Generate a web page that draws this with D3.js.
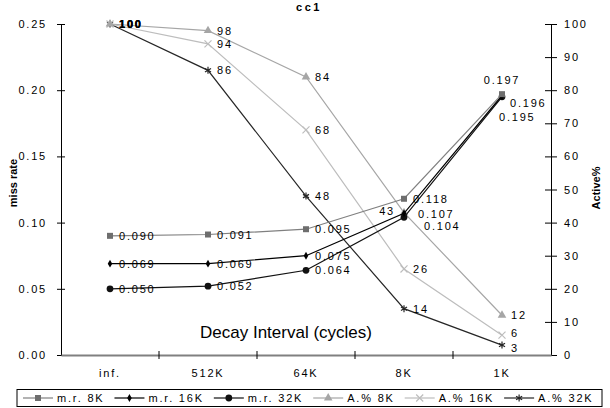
<!DOCTYPE html>
<html>
<head>
<meta charset="utf-8">
<script src="https://cdn.jsdelivr.net/npm/d3@7"></script>
<style>
  body { margin: 0; background: #fff; }
  text { font-family: "Liberation Sans", Arial, sans-serif; }
</style>
</head>
<body>
<script>
var categories = ["inf.", "512K", "64K", "8K", "1K"];
var mr8K  = [0.090, 0.091, 0.095, 0.118, 0.197];
var mr16K = [0.069, 0.069, 0.075, 0.107, 0.196];
var mr32K = [0.050, 0.052, 0.064, 0.104, 0.195];
var act8K  = [100, 98, 84, 43, 12];
var act16K = [100, 94, 68, 26, 6];
var act32K = [100, 86, 48, 14, 3];
var leftTicks = [0, 0.05, 0.10, 0.15, 0.20, 0.25];
var rightTicks = [0, 10, 20, 30, 40, 50, 60, 70, 80, 90, 100];

var width = 610, height = 408;
var margin = {top: 24, right: 59, bottom: 53, left: 61};

// series styling, label offsets per point where the default (right side) doesn't fit
var series = [
  {name: "m.r. 8K",  values: mr8K,  axis: "left",  stroke: "#808080", fill: "#6e6e6e", symbol: d3.symbolSquare, size: 36, fmt: d3.format(".3f"),
   labels: {4: {dx: 0, dy: -10, anchor: "middle"}}},
  {name: "m.r. 16K", values: mr16K, axis: "left",  stroke: "#000", fill: "#000", symbol: d3.symbolDiamond, size: 18, fmt: d3.format(".3f"),
   labels: {3: {dx: 14, dy: 5}, 4: {dx: 8, dy: 12}}},
  {name: "m.r. 32K", values: mr32K, axis: "left",  stroke: "#111", fill: "#111", symbol: d3.symbolCircle, size: 36, fmt: d3.format(".3f"),
   labels: {3: {dx: 20, dy: 13}, 4: {dx: -3, dy: 24}}},
  {name: "A.% 8K",   values: act8K,  axis: "right", stroke: "#a6a6a6", fill: "#a6a6a6", symbol: d3.symbolTriangle, size: 32, fmt: d3.format("d"), stroked: false,
   labels: {3: {dx: -9, dy: 2, anchor: "end"}}},
  {name: "A.% 16K",  values: act16K, axis: "right", stroke: "#bdbdbd", fill: "none", symbol: d3.symbolX, size: 34, fmt: d3.format("d"), stroked: true,
   labels: {4: {dx: 9, dy: 2}}},
  {name: "A.% 32K",  values: act32K, axis: "right", stroke: "#262626", fill: "none", symbol: d3.symbolAsterisk, size: 34, fmt: d3.format("d"), stroked: true,
   labels: {4: {dx: 9, dy: 7}}}
];

var svg = d3.select("body").append("svg")
  .attr("width", width)
  .attr("height", height);

var x = d3.scaleBand().domain(categories).range([margin.left, width - margin.right]);
var yL = d3.scaleLinear().domain([0, 0.25]).range([height - margin.bottom, margin.top]);
var yR = d3.scaleLinear().domain([0, 100]).range([height - margin.bottom, margin.top]);

// title
svg.append("text")
  .attr("x", 309).attr("y", 11)
  .attr("text-anchor", "middle")
  .style("font-size", "11px").style("font-weight", "bold").style("letter-spacing", "2.5px")
  .text("cc1");

// left axis
var gL = svg.append("g")
  .attr("transform", "translate(" + margin.left + ",0)")
  .call(d3.axisLeft(yL).tickValues(leftTicks).tickFormat(d3.format(".2f")).tickSizeOuter(0).tickSize(4).tickPadding(10));
gL.selectAll(".tick line").attr("x1", 4).attr("x2", -4);
gL.selectAll("text").style("font-size", "11px").style("letter-spacing", "1.8px").attr("fill", "#000");

// right axis
var gR = svg.append("g")
  .attr("transform", "translate(" + (width - margin.right) + ",0)")
  .call(d3.axisRight(yR).tickValues(rightTicks).tickSizeOuter(0).tickSize(6).tickPadding(7));
gR.selectAll(".tick line").attr("x1", -6).attr("x2", 6);
gR.selectAll("text").style("font-size", "11px").style("letter-spacing", "1.8px").attr("fill", "#000");

// bottom axis
var gB = svg.append("g")
  .attr("transform", "translate(0," + (height - margin.bottom) + ")")
  .call(d3.axisBottom(x).tickSize(0).tickPadding(14));
gB.select(".domain").attr("stroke", "#808080").attr("stroke-width", 2);
gB.selectAll("text").style("font-size", "11px").style("letter-spacing", "1.8px").attr("fill", "#000");
gB.selectAll(".bound")
  .data(categories.slice(1))
  .enter().append("line")
  .attr("class", "bound")
  .attr("x1", function(d) { return x(d); })
  .attr("x2", function(d) { return x(d); })
  .attr("y1", -4).attr("y2", 4)
  .attr("stroke", "#000");

// axis titles
svg.append("text")
  .attr("transform", "translate(17,183) rotate(-90)")
  .attr("text-anchor", "middle")
  .style("font-size", "11px").style("font-weight", "bold")
  .text("miss rate");
svg.append("text")
  .attr("transform", "translate(600,188) rotate(-90)")
  .attr("text-anchor", "middle")
  .style("font-size", "11px").style("font-weight", "bold")
  .text("Active%");

svg.append("text")
  .attr("x", 286).attr("y", 338)
  .attr("text-anchor", "middle")
  .style("font-size", "17px")
  .text("Decay Interval (cycles)");

function cx(i) { return x(categories[i]) + x.bandwidth() / 2; }

function drawMarker(g, s) {
  g.attr("d", d3.symbol().type(s.symbol).size(s.size));
  if (s.stroked) {
    g.attr("fill", "none").attr("stroke", s.stroke).attr("stroke-width", 1.2);
  } else {
    g.attr("fill", s.fill).attr("stroke", "none");
  }
}

// lines, markers, labels
series.slice().reverse().forEach(function(s) {
  var yS = s.axis === "left" ? yL : yR;
  var line = d3.line()
    .x(function(d, i) { return cx(i); })
    .y(function(d) { return yS(d); });

  svg.append("path")
    .datum(s.values)
    .attr("d", line)
    .attr("fill", "none")
    .attr("stroke", s.stroke)
    .attr("stroke-width", 1.2);

  svg.selectAll(null)
    .data(s.values)
    .enter().append("path")
    .attr("transform", function(d, i) { return "translate(" + cx(i) + "," + yS(d) + ")"; })
    .call(drawMarker, s);
});

series.forEach(function(s) {
  var yS = s.axis === "left" ? yL : yR;
  svg.selectAll(null)
    .data(s.values)
    .enter().append("text")
    .attr("x", function(d, i) { var o = s.labels[i] || {}; return cx(i) + (o.dx !== undefined ? o.dx : 9); })
    .attr("y", function(d, i) { var o = s.labels[i] || {}; return yS(d) + (o.dy !== undefined ? o.dy : 4); })
    .attr("text-anchor", function(d, i) { var o = s.labels[i] || {}; return o.anchor || "start"; })
    .style("font-size", "11px").style("letter-spacing", "1.8px")
    .style("font-weight", function(d, i) { return i === 0 && s.axis === "right" ? "bold" : "normal"; })
    .text(function(d) { return s.fmt(d); });
});

// legend
var legend = svg.append("g");
legend.append("rect")
  .attr("x", 17).attr("y", 389.5).attr("width", 585).attr("height", 17)
  .attr("fill", "#fff").attr("stroke", "#000");

var lx = 23;
series.forEach(function(s) {
  var item = legend.append("g").attr("transform", "translate(" + lx + ",398)");
  item.append("line").attr("x1", 0).attr("x2", 30).attr("stroke", s.stroke).attr("stroke-width", 1.2);
  item.append("path").attr("transform", "translate(15,0)").call(drawMarker, s);
  var t = item.append("text")
    .attr("x", 34).attr("y", 4)
    .style("font-size", "11px").style("letter-spacing", "1.8px")
    .text(s.name);
  lx += 34 + t.node().getComputedTextLength() + 10;
});
</script>
</body>
</html>
